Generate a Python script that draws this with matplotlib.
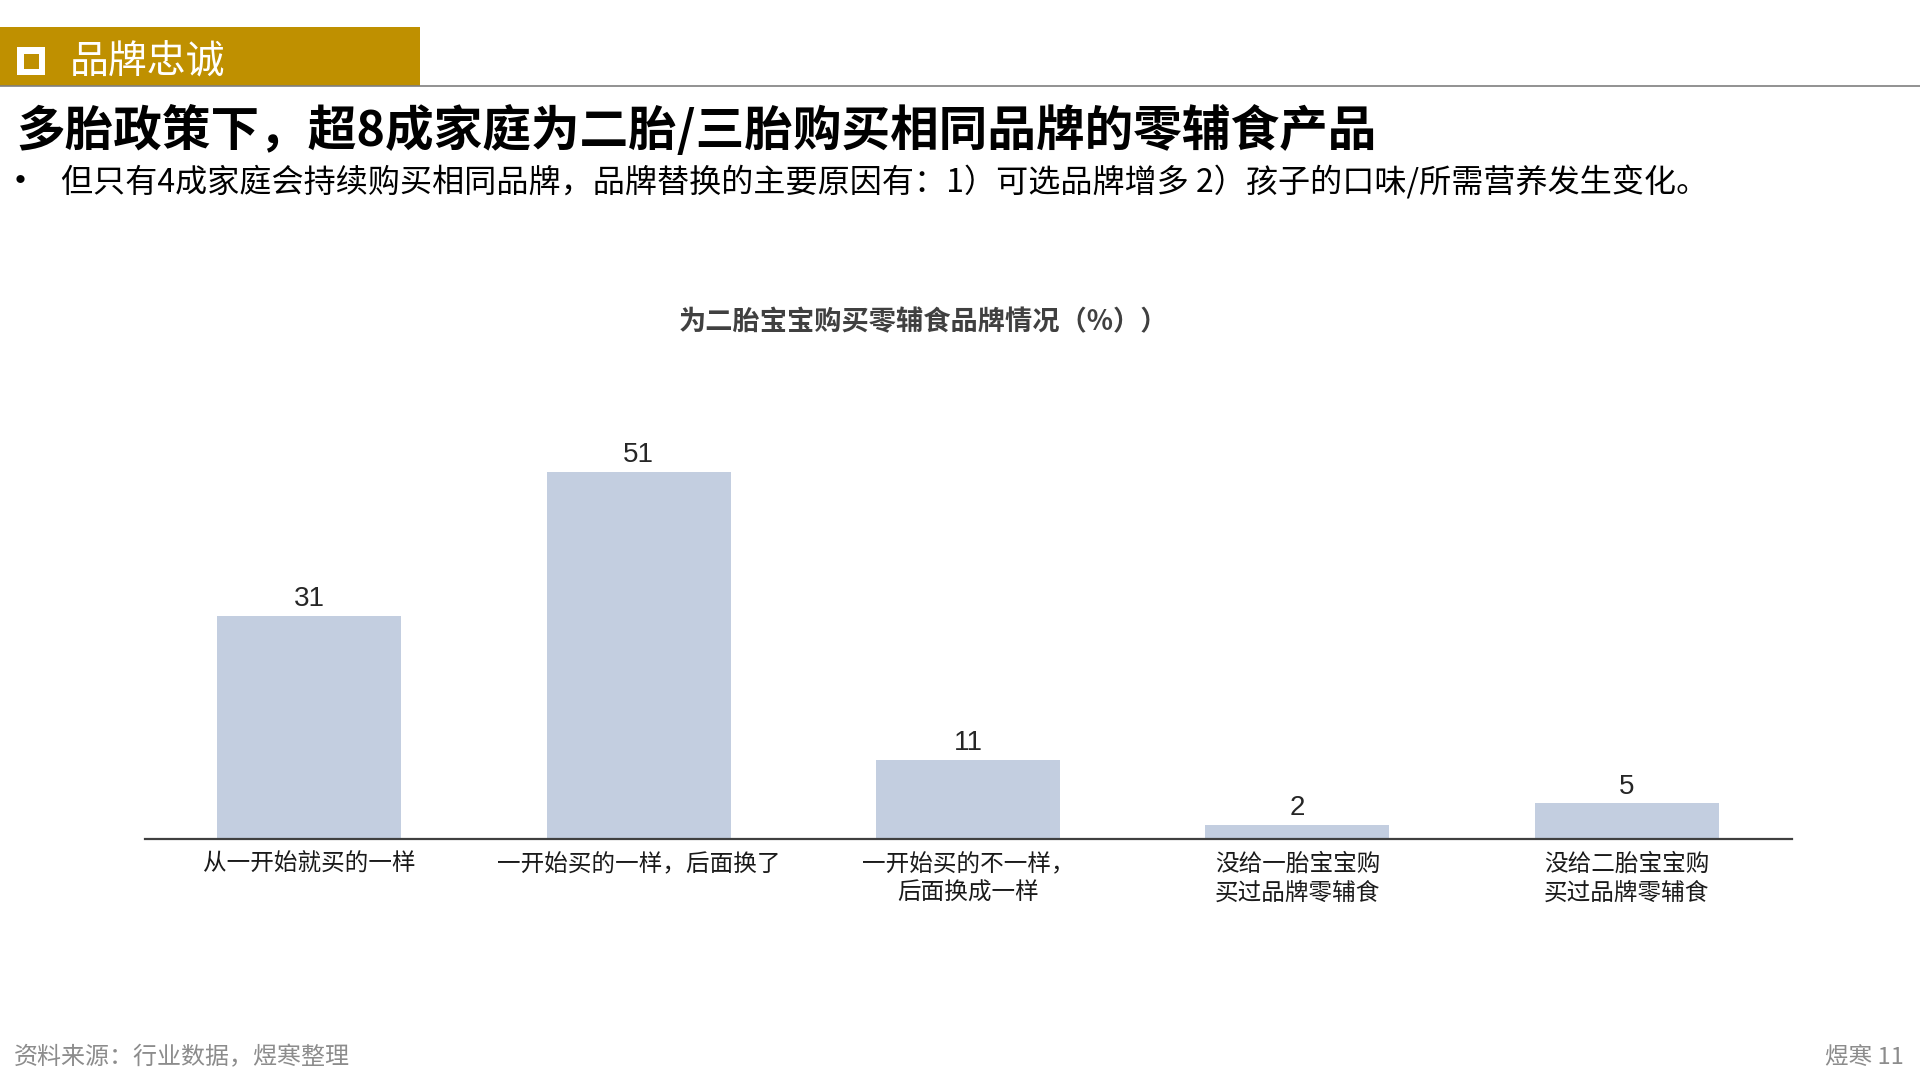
import matplotlib
matplotlib.use("Agg")
import matplotlib.pyplot as plt
from matplotlib.patches import Rectangle
from matplotlib.lines import Line2D

plt.rcParams['font.family'] = ['Noto Sans CJK SC', 'DejaVu Sans']

# ---- data ----
categories = ["从一开始就买的一样", "一开始买的一样，后面换了", "一开始买的不一样，\n后面换成一样",
              "没给一胎宝宝购\n买过品牌零辅食", "没给二胎宝宝购\n买过品牌零辅食"]
values = [31, 51, 11, 2, 5]

header_text = "品牌忠诚"
title_text = "多胎政策下，超8成家庭为二胎/三胎购买相同品牌的零辅食产品"
bullet_text = "但只有4成家庭会持续购买相同品牌，品牌替换的主要原因有：1）可选品牌增多 2）孩子的口味/所需营养发生变化。"
chart_title = "为二胎宝宝购买零辅食品牌情况（%））"
source_text = "资料来源：行业数据，煜寒整理"
page_text = "煜寒 11"

W, H = 1920, 1080
fig = plt.figure(figsize=(19.2, 10.8), dpi=100)
fig.patch.set_facecolor("white")

def fx(x):
    return x / W

def fy(y):
    return 1 - y / H

gold = "#BF9000"
# header band
fig.add_artist(Rectangle((fx(0), fy(86)), fx(420), 59 / H, transform=fig.transFigure,
                         facecolor=gold, edgecolor="none", zorder=1))
fig.add_artist(Line2D([0, 1], [fy(86), fy(86)], transform=fig.transFigure,
                      color="#7F7F7F", linewidth=1.2, zorder=2))
# hollow white square icon
fig.add_artist(Rectangle((fx(17), fy(75)), 28 / W, 28 / H, transform=fig.transFigure,
                         facecolor="white", edgecolor="none", zorder=3))
fig.add_artist(Rectangle((fx(23.5), fy(68.5)), 15 / W, 15 / H, transform=fig.transFigure,
                         facecolor=gold, edgecolor="none", zorder=4))
fig.text(fx(70), fy(63), header_text, color="white", fontsize=28, va="center", ha="left")

fig.text(fx(16), fy(130), title_text, color="black", fontsize=35, fontweight="bold",
         va="center", ha="left")
fig.text(fx(20), fy(183), "•", color="black", fontsize=28, va="center", ha="center")
fig.text(fx(61), fy(182), bullet_text, color="black", fontsize=23.1, va="center", ha="left")

fig.text(fx(923), fy(322), chart_title, color="#404040", fontsize=19.6, fontweight="bold",
         va="center", ha="center")

fig.text(fx(14), fy(1057), source_text, color="#8C8C8C", fontsize=17.3, va="center", ha="left")
fig.text(fx(1904), fy(1057), page_text, color="#8C8C8C", fontsize=17, va="center", ha="right")

# ---- chart ----
ax_left, ax_right = 144.5, 1791.5
ax_bottom = 839
ymax = 60
px_per_unit = 7.2
ax_height = ymax * px_per_unit
ax = fig.add_axes([fx(ax_left), 1 - ax_bottom / H, (ax_right - ax_left) / W, ax_height / H])
x = list(range(len(categories)))
bars = ax.bar(x, values, width=0.558, color="#C3CEE0", zorder=2)
ax.set_xlim(-0.5, len(categories) - 0.5)
ax.set_ylim(0, ymax)
for s in ["top", "right", "left"]:
    ax.spines[s].set_visible(False)
ax.spines["bottom"].set_color("#404040")
ax.spines["bottom"].set_linewidth(1.6)
ax.spines["bottom"].set_zorder(3)
ax.set_yticks([])
ax.set_xticks(x)
ax.set_xticklabels(categories, fontsize=17, color="#1A1A1A", linespacing=1.3)
ax.tick_params(axis="x", length=0, pad=10)
ax.patch.set_visible(False)
ax.bar_label(bars, labels=[str(v) for v in values], padding=2.5, fontsize=20,
             color="#262626", family=["Liberation Sans", "DejaVu Sans"])

fig.savefig("out.png", dpi=100, facecolor="white")
